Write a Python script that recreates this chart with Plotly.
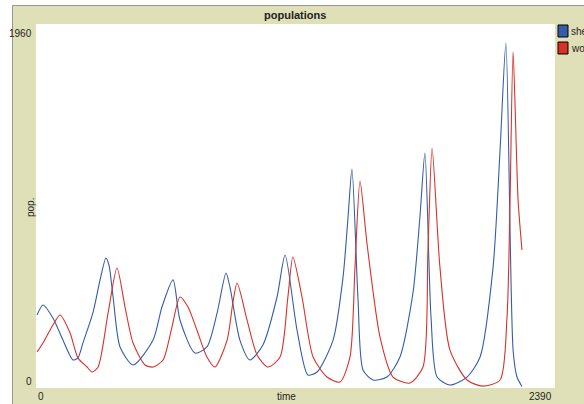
import plotly.graph_objects as go

# ---- data ----
sheep_t = [5, 32, 78, 124, 170, 193, 216, 262, 295, 322, 336, 355, 387, 447, 539, 580, 631, 663,
           732, 787, 834, 875, 893, 939, 985, 1045, 1110, 1147, 1202, 1252, 1294, 1368, 1414,
           1437, 1455, 1483, 1506, 1552, 1616, 1676, 1736, 1768, 1791, 1819, 1847, 1906, 1985,
           2045, 2105, 2137, 2164, 2197, 2215, 2238]
sheep_v = [393, 447, 377, 258, 151, 162, 242, 404, 582, 700, 662, 490, 221, 124, 258, 436, 582, 366,
           188, 221, 404, 619, 544, 258, 151, 232, 490, 716, 312, 70, 86, 258, 598,
           921, 1179, 474, 97, 43, 59, 167, 512, 921, 1265, 382, 59, 16, 59,
           167, 652, 1282, 1858, 205, 59, 8]

wolves_t = [5, 32, 78, 111, 157, 193, 235, 258, 286, 332, 373, 410, 447, 502, 539, 585, 626, 663,
            700, 741, 787, 824, 880, 907, 926, 972, 1018, 1068, 1124, 1160, 1183, 1225, 1276,
            1340, 1400, 1446, 1469, 1492, 1524, 1584, 1644, 1722, 1782, 1805, 1824, 1860, 1906,
            1985, 2058, 2137, 2169, 2183, 2197, 2220, 2238]
wolves_v = [194, 242, 339, 393, 296, 162, 113, 86, 113, 404, 646, 436, 242, 124, 113, 151, 328, 490,
            436, 312, 167, 113, 258, 463, 565, 366, 178, 113, 167, 490, 705, 490, 167,
            59, 32, 167, 652, 1115, 781, 275, 59, 27, 113, 743, 1292, 652, 205,
            43, 10, 43, 382, 1012, 1809, 1012, 743]

series_names = ["sheep", "wolves"]
series_colors = ["rgb(52,93,169)", "rgb(215,50,41)"]
x_max = 2390
y_max = 1960

BEIGE = "rgb(224,224,184)"
TXT = "#222222"
FONT = "Liberation Sans"

fig = go.Figure()
fig.add_trace(go.Scatter(x=sheep_t, y=sheep_v, mode="lines", name=series_names[0],
                         line=dict(color=series_colors[0], width=1.1, shape="spline", smoothing=0.7),
                         showlegend=False))
fig.add_trace(go.Scatter(x=wolves_t, y=wolves_v, mode="lines", name=series_names[1],
                         line=dict(color=series_colors[1], width=1.1, shape="spline", smoothing=0.7),
                         showlegend=False))

W, H = 584, 404
L, R, T, B = 36, 29, 24, 16
pw, ph = W - L - R, H - T - B

def px(x):
    return (x - L) / pw

def py(y):
    return (H - B - y) / ph

shapes = [
    dict(type="rect", xref="paper", yref="paper", x0=px(0), x1=px(W), y0=py(5.5), y1=py(0),
         fillcolor="white", line_width=0, layer="above"),
    dict(type="rect", xref="paper", yref="paper", x0=px(0), x1=px(12.5), y0=py(H), y1=py(0),
         fillcolor="white", line_width=0, layer="above"),
    dict(type="line", xref="paper", yref="paper", x0=px(12.5), x1=px(W), y0=py(5.5), y1=py(5.5),
         line=dict(color="rgb(150,150,150)", width=1), layer="above"),
    dict(type="line", xref="paper", yref="paper", x0=px(12.5), x1=px(12.5), y0=py(5.5), y1=py(H),
         line=dict(color="rgb(150,150,150)", width=1), layer="above"),
]

annotations = [
    dict(text="<b>populations</b>", xref="paper", yref="paper", x=px(295), y=py(15),
         showarrow=False, xanchor="center", yanchor="middle",
         font=dict(family=FONT, size=11, color=TXT)),
    dict(text=str(y_max), xref="paper", yref="paper", x=px(34), y=py(33),
         showarrow=False, xanchor="right", yanchor="middle",
         font=dict(family=FONT, size=10, color=TXT)),
    dict(text="0", xref="paper", yref="paper", x=px(34), y=py(381),
         showarrow=False, xanchor="right", yanchor="middle",
         font=dict(family=FONT, size=10, color=TXT)),
    dict(text="0", xref="paper", yref="paper", x=px(36), y=py(397),
         showarrow=False, xanchor="left", yanchor="middle",
         font=dict(family=FONT, size=10, color=TXT)),
    dict(text=str(x_max), xref="paper", yref="paper", x=px(554), y=py(397),
         showarrow=False, xanchor="right", yanchor="middle",
         font=dict(family=FONT, size=10, color=TXT)),
    dict(text="time", xref="paper", yref="paper", x=px(286), y=py(397),
         showarrow=False, xanchor="center", yanchor="middle",
         font=dict(family=FONT, size=10, color=TXT)),
    dict(text="pop.", xref="paper", yref="paper", x=px(30), y=py(208),
         showarrow=False, xanchor="center", yanchor="middle", textangle=-90,
         font=dict(family=FONT, size=10, color=TXT)),
]

# legend: coloured squares + labels (labels run past the right edge, as in the reference)
leg_y = [31, 48]
for i, name in enumerate(series_names):
    shapes.append(dict(type="rect", xref="paper", yref="paper",
                       x0=px(558), x1=px(568), y0=py(leg_y[i] + 6), y1=py(leg_y[i] - 6),
                       fillcolor=series_colors[i], line=dict(color="black", width=1)))
    annotations.append(dict(text=name, xref="paper", yref="paper", x=px(569), y=py(leg_y[i]),
                            showarrow=False, xanchor="left", yanchor="middle",
                            font=dict(family=FONT, size=10, color=TXT)))

fig.update_layout(
    width=W, height=H,
    margin=dict(l=L, r=R, t=T, b=B, autoexpand=False),
    paper_bgcolor=BEIGE, plot_bgcolor="white",
    showlegend=False,
    xaxis=dict(range=[0, x_max], showgrid=False, zeroline=False, showticklabels=False,
               ticks="", showline=False, fixedrange=True),
    yaxis=dict(range=[0, y_max], showgrid=False, zeroline=False, showticklabels=False,
               ticks="", showline=False, fixedrange=True),
    shapes=shapes, annotations=annotations,
)

fig.write_html("out.html", config={"displayModeBar": False})
